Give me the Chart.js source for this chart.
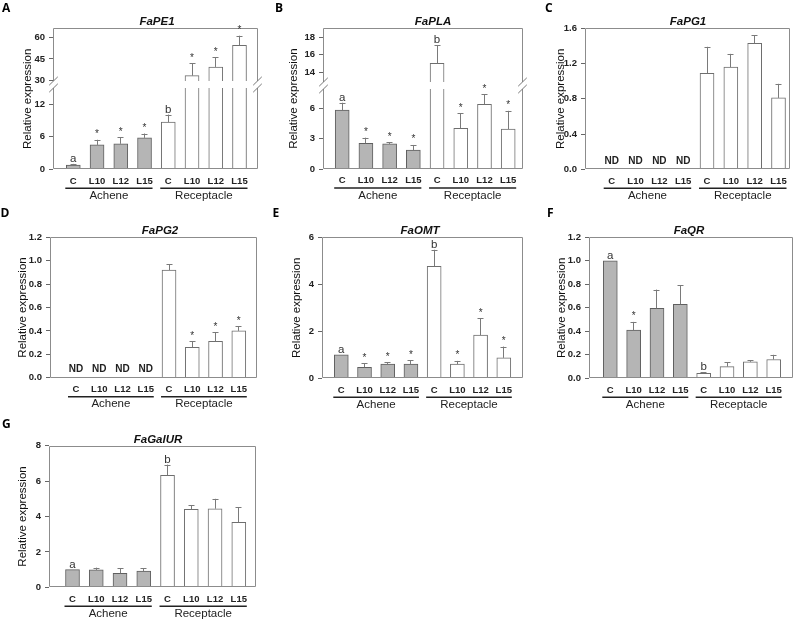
<!DOCTYPE html>
<html>
<head>
<meta charset="utf-8">
<script src="https://cdn.jsdelivr.net/npm/chart.js@4.4.1/dist/chart.umd.min.js"></script>
<style>
  body { margin: 0; background: #fff; width: 800px; height: 619px; position: relative; overflow: hidden; }
  canvas { position: absolute; }
</style>
</head>
<body>
<canvas id="cA"></canvas>
<canvas id="cB"></canvas>
<canvas id="cC"></canvas>
<canvas id="cD"></canvas>
<canvas id="cE"></canvas>
<canvas id="cF"></canvas>
<canvas id="cG"></canvas>
<script>
var categories = ['C', 'L10', 'L12', 'L15', 'C', 'L10', 'L12', 'L15'];
var groups = ['Achene', 'Receptacle'];
var yTitle = 'Relative expression';

// FaPE1 (broken axis)
var pe1Values = [0.8, 4.5, 4.7, 5.8, 8.7, 33.5, 39.5, 54.5];
var pe1Errors = [0.2, 0.95, 1.25, 0.8, 1.4, 8.5, 6.7, 6.6];
var pe1Marks = ['a', '*', '*', '*', 'b', '*', '*', '*'];
var pe1Ticks = [0, 6, 12, 30, 45, 60];

// FaPLA (broken axis)
var plaValues = [5.84, 2.54, 2.48, 1.88, 15.0, 4.02, 6.4, 3.96];
var plaErrors = [0.72, 0.56, 0.16, 0.5, 2.1, 1.48, 1.0, 1.8];
var plaMarks = ['a', '*', '*', '*', 'b', '*', '*', '*'];
var plaTicks = [0, 3, 6, 14, 16, 18];

// FaPG1
var pg1Values = [null, null, null, null, 1.09, 1.16, 1.43, 0.81];
var pg1Errors = [0, 0, 0, 0, 0.30, 0.15, 0.09, 0.16];
var pg1Marks = ['ND', 'ND', 'ND', 'ND', '', '', '', ''];
var pg1Ticks = [0, 0.4, 0.8, 1.2, 1.6];

// FaPG2
var pg2Values = [null, null, null, null, 0.92, 0.26, 0.31, 0.40];
var pg2Errors = [0, 0, 0, 0, 0.05, 0.05, 0.08, 0.04];
var pg2Marks = ['ND', 'ND', 'ND', 'ND', '', '*', '*', '*'];
var pg2Ticks = [0, 0.2, 0.4, 0.6, 0.8, 1.0, 1.2];

// FaOMT
var omtValues = [1.0, 0.47, 0.61, 0.61, 4.77, 0.6, 1.84, 0.87];
var omtErrors = [0, 0.17, 0.07, 0.16, 0.7, 0.14, 0.71, 0.48];
var omtMarks = ['a', '*', '*', '*', 'b', '*', '*', '*'];
var omtTicks = [0, 2, 4, 6];

// FaQR
var qrValues = [1.0, 0.41, 0.595, 0.63, 0.043, 0.10, 0.14, 0.16];
var qrErrors = [0, 0.07, 0.16, 0.16, 0.01, 0.035, 0.012, 0.04];
var qrMarks = ['a', '*', '', '', 'b', '', '', ''];
var qrTicks = [0, 0.2, 0.4, 0.6, 0.8, 1.0, 1.2];

// FaGalUR
var galValues = [1.0, 0.98, 0.79, 0.92, 6.33, 4.41, 4.44, 3.67];
var galErrors = [0, 0.13, 0.28, 0.15, 0.6, 0.24, 0.56, 0.85];
var galMarks = ['a', '', '', '', 'b', '', '', ''];
var galTicks = [0, 2, 4, 6, 8];

var FONT = '"Liberation Sans", Arial, sans-serif';
Chart.defaults.font.family = FONT;

// linear scale with a gap between lowMax and highMin
class BrokenScale extends Chart.LinearScale {
    getPixelForValue(value) {
        if (value === null || value === undefined || isNaN(value)) return NaN;
        var c = this.options.cut;
        var dec;
        if (value <= c.lowMax) {
            dec = value / c.lowMax * c.lowFrac;
        } else if (value >= c.highMin) {
            dec = c.highFrac + (value - c.highMin) / (this.max - c.highMin) * (1 - c.highFrac);
        } else {
            dec = c.lowFrac + (value - c.lowMax) / (c.highMin - c.lowMax) * (c.highFrac - c.lowFrac);
        }
        return this.getPixelForDecimal(dec);
    }
}
BrokenScale.id = 'broken';
BrokenScale.defaults = {};
Chart.register(BrokenScale);

var panels = [
    { id: 'cA', letter: 'A', gene: 'FaPE1', values: pe1Values, errors: pe1Errors, marks: pe1Marks, ticks: pe1Ticks, decimals: 0,
      max: 66.2, lowMax: 15, highMin: 29.8, gapTop: 81, gapBottom: 88,
      x0: 0, y0: 0, w: 265, h: 207, L: 53, R: 258, T: 28.3, B: 169.3, first: 73.3, last: 239.5,
      yTitleX: 27.5, titleX: 157, letterX: 2, letterY: 11.7 },
    { id: 'cB', letter: 'B', gene: 'FaPLA', values: plaValues, errors: plaErrors, marks: plaMarks, ticks: plaTicks, decimals: 0,
      max: 19, lowMax: 7.92, highMin: 12.88, gapTop: 82, gapBottom: 89,
      x0: 265, y0: 0, w: 265, h: 207, L: 323, R: 523, T: 28.3, B: 169, first: 342.2, last: 508.2,
      yTitleX: 294, titleX: 433, letterX: 275, letterY: 11.7 },
    { id: 'cC', letter: 'C', gene: 'FaPG1', values: pg1Values, errors: pg1Errors, marks: pg1Marks, ticks: pg1Ticks, decimals: 1,
      max: 1.6,
      x0: 530, y0: 0, w: 270, h: 207, L: 585, R: 790, T: 28.3, B: 169.3, first: 611.7, last: 778.5,
      yTitleX: 560.7, titleX: 688, letterX: 545, letterY: 11.7 },
    { id: 'cD', letter: 'D', gene: 'FaPG2', values: pg2Values, errors: pg2Errors, marks: pg2Marks, ticks: pg2Ticks, decimals: 1,
      max: 1.2,
      x0: 0, y0: 207, w: 265, h: 203, L: 50, R: 257, T: 237.3, B: 377.7, first: 76, last: 238.8,
      yTitleX: 22.5, titleX: 160, letterX: 0.5, letterY: 216.7 },
    { id: 'cE', letter: 'E', gene: 'FaOMT', values: omtValues, errors: omtErrors, marks: omtMarks, ticks: omtTicks, decimals: 0,
      max: 6,
      x0: 265, y0: 207, w: 265, h: 203, L: 322, R: 523, T: 237.3, B: 378.3, first: 341.3, last: 503.8,
      yTitleX: 297, titleX: 420, letterX: 272.5, letterY: 216.7 },
    { id: 'cF', letter: 'F', gene: 'FaQR', values: qrValues, errors: qrErrors, marks: qrMarks, ticks: qrTicks, decimals: 1,
      max: 1.2,
      x0: 530, y0: 207, w: 270, h: 203, L: 589, R: 793, T: 237.3, B: 378.3, first: 610.3, last: 773.7,
      yTitleX: 562, titleX: 689, letterX: 547, letterY: 216.7 },
    { id: 'cG', letter: 'G', gene: 'FaGalUR', values: galValues, errors: galErrors, marks: galMarks, ticks: galTicks, decimals: 0,
      max: 8,
      x0: 0, y0: 410, w: 265, h: 209, L: 49, R: 256, T: 445.7, B: 587.3, first: 72.5, last: 238.8,
      yTitleX: 22.5, titleX: 158, letterX: 2, letterY: 428 }
];

function crisp(v) { return Math.round(v) + 0.5; }

// frame, break marks, error bars, labels
function annotations(p) {
    return {
        id: 'annotations',
        afterDatasetsDraw: function(chart) {
            var ctx = chart.ctx;
            var xs = chart.scales.x, ys = chart.scales.y;
            var a = chart.chartArea;
            var g1 = null, g2 = null;
            ctx.save();

            if (p.gapTop) {
                g1 = p.gapTop - p.y0;
                g2 = p.gapBottom - p.y0;
                ctx.fillStyle = '#fff';
                ctx.fillRect(a.left + 1, g1, a.right - a.left - 2, g2 - g1);
            }

            var l = crisp(a.left), r = crisp(a.right - 1), t = crisp(a.top), b = crisp(a.bottom - 1);
            ctx.strokeStyle = '#8c8c8c';
            ctx.lineWidth = 1;
            ctx.beginPath();
            ctx.moveTo(l, t); ctx.lineTo(r, t);
            ctx.moveTo(l, b); ctx.lineTo(r, b);
            [l, r].forEach(function(x) {
                if (g1 !== null) {
                    ctx.moveTo(x, b); ctx.lineTo(x, g2);
                    ctx.moveTo(x, g1); ctx.lineTo(x, t);
                } else {
                    ctx.moveTo(x, b); ctx.lineTo(x, t);
                }
            });
            ctx.stroke();

            if (g1 !== null) {
                ctx.strokeStyle = '#777';
                ctx.beginPath();
                [l, r].forEach(function(x) {
                    [g1, g2].forEach(function(y) {
                        ctx.moveTo(x - 4.3, y + 4.2);
                        ctx.lineTo(x + 4.3, y - 4.2);
                    });
                });
                ctx.stroke();
            }

            // error bars and significance marks
            ctx.textAlign = 'center';
            for (var i = 0; i < p.values.length; i++) {
                var x = xs.getPixelForValue(i + 1);
                var mark = p.marks[i];
                if (p.values[i] === null) {
                    if (mark) {
                        ctx.fillStyle = '#222';
                        ctx.font = 'bold 10px ' + FONT;
                        ctx.textBaseline = 'middle';
                        ctx.fillText(mark, x, a.bottom - 8);
                    }
                    continue;
                }
                var yv = ys.getPixelForValue(p.values[i]);
                var ye = ys.getPixelForValue(p.values[i] + p.errors[i]);
                if (p.errors[i] > 0) {
                    var cx = crisp(x - 0.5);
                    ctx.strokeStyle = '#7a7a7a';
                    ctx.beginPath();
                    ctx.moveTo(cx, yv); ctx.lineTo(cx, ye);
                    ctx.moveTo(cx - 3, crisp(ye)); ctx.lineTo(cx + 3, crisp(ye));
                    ctx.stroke();
                }
                if (mark) {
                    ctx.fillStyle = '#333';
                    ctx.textBaseline = 'alphabetic';
                    if (mark === '*') {
                        ctx.font = '10px ' + FONT;
                        ctx.fillText(mark, x, ye - 2.5);
                    } else {
                        ctx.font = '11.5px ' + FONT;
                        ctx.fillText(mark, x, ye - 2);
                    }
                }
            }

            // gene title
            ctx.fillStyle = '#111';
            ctx.font = 'italic bold 11.5px ' + FONT;
            ctx.textBaseline = 'middle';
            ctx.fillText(p.gene, p.titleX - p.x0, a.top - 6);

            // y axis title
            ctx.save();
            ctx.translate(p.yTitleX - p.x0, (a.top + a.bottom) / 2);
            ctx.rotate(-Math.PI / 2);
            ctx.font = '11.5px ' + FONT;
            ctx.fillStyle = '#111';
            ctx.fillText(yTitle, 0, 0);
            ctx.restore();

            // group underlines
            for (var g = 0; g < groups.length; g++) {
                var x1 = xs.getPixelForValue(g * 4 + 1) - 8;
                var x2 = xs.getPixelForValue(g * 4 + 4) + 8;
                var yl = a.bottom + 19;
                ctx.strokeStyle = '#222';
                ctx.lineWidth = 1.6;
                ctx.beginPath();
                ctx.moveTo(x1, yl); ctx.lineTo(x2, yl);
                ctx.stroke();
                ctx.fillStyle = '#222';
                ctx.font = '11.5px ' + FONT;
                ctx.textBaseline = 'middle';
                ctx.fillText(groups[g], (x1 + x2) / 2, a.bottom + 26.5);
            }

            // panel letter
            ctx.fillStyle = '#000';
            ctx.font = 'bold 12px "Open Sans", ' + FONT;
            ctx.textAlign = 'left';
            ctx.textBaseline = 'alphabetic';
            ctx.fillText(p.letter, p.letterX - p.x0, p.letterY - p.y0);

            ctx.restore();
        }
    };
}

function buildPanel(p) {
    var canvas = document.getElementById(p.id);
    canvas.width = p.w;
    canvas.height = p.h;
    canvas.style.left = p.x0 + 'px';
    canvas.style.top = p.y0 + 'px';

    var step = (p.last - p.first) / 7;
    var xMin = 1 - (p.first - p.L) / step;
    var xMax = categories.length + (p.R - p.last) / step;

    var points = p.values.map(function(v, i) { return { x: i + 1, y: v }; });
    var fills = p.values.map(function(v, i) { return i < 4 ? '#b5b5b5' : '#ffffff'; });
    var borders = p.values.map(function(v, i) { return i < 4 ? '#5f5f5f' : '#6e6e6e'; });

    var yScale = {
        type: p.lowMax ? 'broken' : 'linear',
        min: 0,
        max: p.max,
        afterBuildTicks: function(s) {
            s.ticks = p.ticks.map(function(v) { return { value: v }; });
        },
        afterFit: function(s) { s.width = p.L - p.x0; },
        ticks: {
            autoSkip: false,
            padding: 4,
            color: '#222',
            font: { size: 9.5, weight: 'bold' },
            callback: function(v) { return v.toFixed(p.decimals); }
        },
        grid: { drawOnChartArea: false, drawTicks: true, tickLength: 4, color: '#666' },
        border: { display: false }
    };
    if (p.lowMax) {
        var span = p.B - p.T;
        yScale.cut = {
            lowMax: p.lowMax,
            highMin: p.highMin,
            lowFrac: (p.B - p.gapBottom) / span,
            highFrac: (p.B - p.gapTop) / span
        };
    }

    return new Chart(canvas, {
        type: 'bar',
        data: {
            datasets: [{
                data: points,
                backgroundColor: fills,
                borderColor: borders,
                borderWidth: 1,
                barThickness: 14
            }]
        },
        options: {
            responsive: false,
            animation: false,
            devicePixelRatio: 1,
            events: [],
            layout: { padding: { left: 0, top: p.T - p.y0, right: p.x0 + p.w - p.R, bottom: 0 } },
            plugins: { legend: { display: false }, tooltip: { enabled: false } },
            scales: {
                x: {
                    type: 'linear',
                    min: xMin,
                    max: xMax,
                    offset: false,
                    afterBuildTicks: function(s) {
                        s.ticks = categories.map(function(c, i) { return { value: i + 1 }; });
                    },
                    afterFit: function(s) { s.height = p.y0 + p.h - p.B; },
                    ticks: {
                        autoSkip: false,
                        maxRotation: 0,
                        minRotation: 0,
                        padding: 6,
                        color: '#222',
                        font: { size: 9.5, weight: 'bold' },
                        callback: function(v) { return categories[Math.round(v) - 1]; }
                    },
                    grid: { display: false, drawTicks: false, offset: false },
                    border: { display: false }
                },
                y: yScale
            }
        },
        plugins: [annotations(p)]
    });
}

panels.forEach(buildPanel);
</script>
</body>
</html>
